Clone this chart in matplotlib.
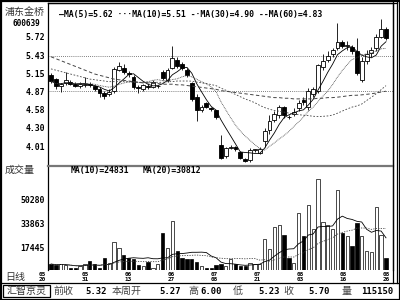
import numpy as np
import pandas as pd
import matplotlib
matplotlib.use("Agg")
import matplotlib.pyplot as plt
from matplotlib.lines import Line2D
from matplotlib.patches import Rectangle
from matplotlib.transforms import blended_transform_factory

# daily candles
opens = [5.12, 5.06, 4.95, 5.00, 5.02, 4.99, 4.95, 4.97, 4.98, 4.95,
         4.91, 4.85, 4.82, 4.88, 5.20, 5.24, 5.16, 5.10, 4.93, 4.91,
         4.95, 4.94, 4.95, 5.17, 5.05, 5.24, 5.36, 5.30, 5.21, 5.00,
         4.78, 4.58, 4.68, 4.60, 4.57, 4.02, 3.85, 3.98, 4.00, 3.92,
         3.80, 3.79, 3.95, 3.90, 4.09, 4.26, 4.42, 4.50, 4.62, 4.47,
         4.52, 4.60, 4.74, 4.62, 4.82, 4.87, 5.25, 5.36, 5.45, 5.55,
         5.64, 5.58, 5.57, 5.50, 5.05, 5.35, 5.47, 5.55, 5.72, 5.84]
highs = [5.15, 5.08, 5.00, 5.17, 5.05, 5.02, 5.01, 5.10, 5.01, 4.97,
         4.93, 4.88, 4.90, 5.25, 5.33, 5.30, 5.18, 5.12, 4.96, 4.98,
         4.98, 5.05, 4.97, 5.20, 5.24, 5.58, 5.40, 5.33, 5.23, 5.02,
         4.82, 4.66, 4.70, 4.63, 4.58, 4.18, 4.00, 4.02, 4.01, 3.94,
         3.82, 3.98, 3.97, 4.00, 4.30, 4.50, 4.56, 4.66, 4.64, 4.50,
         4.60, 4.74, 4.78, 4.92, 4.93, 5.30, 5.45, 5.50, 5.55, 5.94,
         5.67, 5.65, 5.60, 5.70, 5.40, 5.52, 5.56, 5.76, 6.00, 5.87]
lows = [5.00, 4.90, 4.86, 4.97, 4.96, 4.93, 4.92, 4.94, 4.93, 4.88,
        4.78, 4.75, 4.80, 4.85, 5.18, 5.14, 5.10, 4.90, 4.85, 4.88,
        4.90, 4.92, 4.92, 5.05, 5.02, 5.22, 5.24, 5.20, 5.10, 4.72,
        4.40, 4.55, 4.60, 4.56, 4.44, 3.80, 3.82, 3.96, 3.94, 3.80,
        3.76, 3.76, 3.92, 3.88, 4.00, 4.20, 4.38, 4.45, 4.45, 4.43,
        4.48, 4.56, 4.66, 4.58, 4.78, 4.85, 5.20, 5.33, 5.40, 5.52,
        5.55, 5.52, 5.45, 5.12, 5.02, 5.30, 5.40, 5.50, 5.70, 5.68]
closes = [5.03, 4.95, 4.98, 5.05, 4.99, 4.95, 4.98, 4.99, 4.96, 4.91,
          4.84, 4.80, 4.86, 5.22, 5.26, 5.17, 5.14, 4.93, 4.92, 4.96,
          4.94, 5.02, 4.95, 5.07, 5.21, 5.39, 5.26, 5.24, 5.12, 4.75,
          4.58, 4.62, 4.62, 4.59, 4.46, 3.82, 3.98, 4.00, 3.96, 3.83,
          3.78, 3.95, 3.95, 3.97, 4.24, 4.40, 4.52, 4.62, 4.50, 4.46,
          4.55, 4.68, 4.70, 4.88, 4.90, 5.28, 5.35, 5.42, 5.52, 5.64,
          5.58, 5.60, 5.50, 5.15, 5.35, 5.45, 5.52, 5.72, 5.84, 5.70]
volumes = [5500, 4800, 5500, 5000, 3000, 2500, 4000, 5500, 7600, 5500,
           3000, 9700, 6000, 20700, 16500, 11700, 9700, 9000, 5000, 4000,
           7000, 3000, 5500, 27000, 17000, 35800, 14500, 9700, 9000, 9000,
           7000, 4000, 2700, 2700, 5000, 5500, 4000, 9000, 5500, 4000,
           4000, 6200, 5500, 5500, 22800, 16000, 31700, 33000, 26000, 9700,
           6000, 41000, 25000, 47000, 30000, 65000, 35000, 33000, 30000, 57000,
           27000, 25000, 18000, 34000, 25000, 14500, 13800, 45500, 26000, 9700]

# long averages before enough bars are on screen
ma30_head = [5.22, 5.20, 5.18, 5.16, 5.14, 5.12, 5.10, 5.08, 5.06, 5.05,
             5.04, 5.03, 5.02, 5.02, 5.02, 5.02, 5.02, 5.02, 5.01, 5.01,
             5.01, 5.01, 5.01, 5.01, 5.02, 5.02, 5.03, 5.03, 5.03]
ma60_head = [5.41, 5.38, 5.35, 5.32, 5.29, 5.26, 5.23, 5.20, 5.17, 5.14,
             5.12, 5.10, 5.08, 5.06, 5.05, 5.04, 5.03, 5.02, 5.01, 5.00,
             5.00, 4.99, 4.99, 4.98, 4.98, 4.98, 4.97, 4.97, 4.96, 4.95,
             4.94, 4.93, 4.92, 4.91, 4.90, 4.88, 4.87, 4.86, 4.85, 4.84,
             4.83, 4.82, 4.81, 4.80, 4.79, 4.78, 4.77, 4.77, 4.76, 4.76,
             4.75, 4.75, 4.75, 4.75, 4.75, 4.76, 4.76, 4.77, 4.77]

ma_values = [5.62, 5.51, 4.90, 4.83]
vol_ma_values = [24831, 30812]
price_ticks = [5.72, 5.43, 5.15, 4.87, 4.58, 4.30, 4.01]
ref_levels = [5.43, 4.87]
vol_ticks = [50280, 33863, 17445]
date_labels = ["05\n20", "05\n31", "06\n13", "06\n27", "07\n08",
               "07\n21", "08\n03", "08\n16", "08\n26"]
stock_name = "浦东金桥"
stock_code = "600639"
summary_names = ["前收", "本周开", "高", "低", "收", "量"]
summary_values = ["5.32", "5.27", "6.00", "5.23", "5.70", "115150"]

MONO = "DejaVu Sans Mono"
CJK = ["Noto Sans CJK SC", "DejaVu Sans"]
W, H = 400, 300


def fx(x):
    return x / W


def fy(y):
    return 1 - y / H


n = len(closes)
x = np.arange(n)
o = np.array(opens)
c = np.array(closes)
cs = pd.Series(closes)
ma5 = cs.rolling(5, min_periods=1).mean()
ma10 = cs.rolling(10, min_periods=1).mean()
ma30 = cs.rolling(30).mean()
ma30.iloc[:len(ma30_head)] = ma30_head
ma60 = cs.rolling(60).mean()
ma60.iloc[:len(ma60_head)] = ma60_head
vs = pd.Series(volumes)
vma10 = vs.rolling(10, min_periods=1).mean()
vma20 = vs.rolling(20, min_periods=1).mean()

fig = plt.figure(figsize=(4, 3), dpi=100)
fig.patch.set_facecolor("white")

x0, x1 = 48, 393
ax_p = fig.add_axes([fx(x0), fy(165), fx(x1 - x0), (165 - 3) / H])
ax_v = fig.add_axes([fx(x0), fy(270), fx(x1 - x0), (270 - 166) / H])

xl = ((x0 - 51) / 4.855, (x1 - 51) / 4.855)

# price panel
up = c >= o
body_lo = np.minimum(o, c)
body_h = np.maximum(np.abs(c - o), 0.008)
ax_p.vlines(x, lows, highs, color="black", lw=0.6, zorder=2)
ax_p.bar(x, body_h, bottom=body_lo, width=0.8,
         color=np.where(up, "white", "black"), edgecolor="black", lw=0.6, zorder=3)
for lvl in ref_levels:
    ax_p.axhline(lvl, color="#555555", lw=0.6, ls=(0, (1, 1.5)), zorder=1)
ax_p.plot(x, ma5, color="black", lw=0.6, zorder=4)
ax_p.plot(x, ma10, color="#444444", lw=0.6, ls=(0, (1, 1)), zorder=4)
ax_p.plot(x, ma30, color="#444444", lw=0.6, ls=(0, (2, 2)), zorder=4)
ax_p.plot(x, ma60, color="#444444", lw=0.7, ls=(0, (3.5, 2.5)), zorder=4)
ax_p.set_xlim(*xl)
ax_p.set_ylim(5.72 - 128 / 63.8, 5.72 + 34 / 63.8)
ax_p.set_xticks([])
ax_p.set_yticks(price_ticks)
ax_p.set_yticklabels([f"{t:.2f}" for t in price_ticks], fontfamily=MONO,
                     fontweight="bold", fontsize=5.9)
ax_p.tick_params(axis="y", length=0, pad=2.2)

# volume panel
ax_v.bar(x, volumes, width=0.68, color=np.where(up, "white", "black"),
         edgecolor="black", lw=0.5, zorder=3)
ax_v.plot(x, vma10, color="black", lw=0.6, zorder=4)
ax_v.plot(x, vma20, color="#444444", lw=0.6, ls=(0, (1.5, 1.5)), zorder=4)
ax_v.set_xlim(*xl)
ax_v.set_ylim(17445 - 23 * 698.6, 50280 + 34 * 698.6)
ax_v.set_xticks([])
ax_v.set_yticks(vol_ticks)
ax_v.set_yticklabels([str(t) for t in vol_ticks], fontfamily=MONO,
                     fontweight="bold", fontsize=5.9)
ax_v.tick_params(axis="y", length=0, pad=2.2)

for ax in (ax_p, ax_v):
    for s in ax.spines.values():
        s.set_linewidth(0.9)
ax_v.spines["bottom"].set_visible(False)
ax_p.spines["bottom"].set_visible(False)
ax_v.spines["top"].set_visible(False)

# frames
fig.add_artist(Rectangle((fx(0.5), fy(299.5)), fx(399), 299 / H, fill=False,
                         lw=1.6, ec="black", transform=fig.transFigure))
for seg in [((0, 400), (283, 283)), ((x0, x1), (165.5, 165.5)),
            ((x1, x1), (1, 283)), ((396.5, 396.5), (1, 283)),
            ((x0, 397), (2.5, 2.5))]:
    lw = 1.6 if seg[1] == (165.5, 165.5) else 0.9
    col = "#777777" if seg[1] == (165.5, 165.5) else "black"
    fig.add_artist(Line2D([fx(seg[0][0]), fx(seg[0][1])],
                          [fy(seg[1][0]), fy(seg[1][1])], lw=lw, color=col,
                          transform=fig.transFigure))

# left column text
fig.text(fx(25), fy(12), stock_name, ha="center", va="center",
         fontfamily=CJK, fontsize=7.2, color="#333333")
fig.text(fx(26), fy(23), stock_code, ha="center", va="center",
         fontfamily=MONO, fontweight="bold", fontsize=5.6)
fig.text(fx(5), fy(170), "成交量", ha="left", va="center",
         fontfamily=CJK, fontsize=7.2, color="#333333")
fig.text(fx(5), fy(277), "日线", ha="left", va="center",
         fontfamily=CJK, fontsize=7.2, color="#333333")

# MA legends
legend = (f"—MA(5)={ma_values[0]:.2f} ···MA(10)={ma_values[1]:.2f} "
          f"-·MA(30)={ma_values[2]:.2f} --MA(60)={ma_values[3]:.2f}")
fig.text(fx(59), fy(14), legend, ha="left", va="center",
         fontfamily=MONO, fontweight="bold", fontsize=5.9)
fig.text(fx(71), fy(171), f"MA(10)={vol_ma_values[0]}", ha="left", va="center",
         fontfamily=MONO, fontweight="bold", fontsize=5.9)
fig.text(fx(143), fy(171), f"MA(20)={vol_ma_values[1]}", ha="left", va="center",
         fontfamily=MONO, fontweight="bold", fontsize=5.9)

# date labels, evenly spread under the volume panel
tr = blended_transform_factory(ax_v.transData, fig.transFigure)
date_pos = np.linspace((42 - 51) / 4.855, (386.5 - 51) / 4.855, len(date_labels))
for p, lab in zip(date_pos, date_labels):
    ax_v.text(p, fy(277), lab, transform=tr, ha="center", va="center",
              fontfamily=MONO, fontweight="bold", fontsize=4.3,
              linespacing=1.05, clip_on=False)

# bottom summary row
fig.add_artist(Rectangle((fx(3), fy(297)), fx(47), 12 / H, fill=False,
                         lw=0.9, ec="black", transform=fig.transFigure))
fig.text(fx(26.5), fy(291), "汇智京灵", ha="center", va="center",
         fontfamily=CJK, fontsize=7.2, color="#333333")
name_x = [53, 112, 188, 233, 283, 342]
val_x = [107, 181, 222, 280, 330, 393]
for nm, vx, nx, val in zip(summary_names, val_x, name_x, summary_values):
    fig.text(fx(nx), fy(291), nm, ha="left", va="center",
             fontfamily=CJK, fontsize=7.2, color="#444444")
    fig.text(fx(vx), fy(291), val, ha="right", va="center",
             fontfamily=MONO, fontweight="bold", fontsize=6.4)

fig.savefig("out.png", dpi=100)
